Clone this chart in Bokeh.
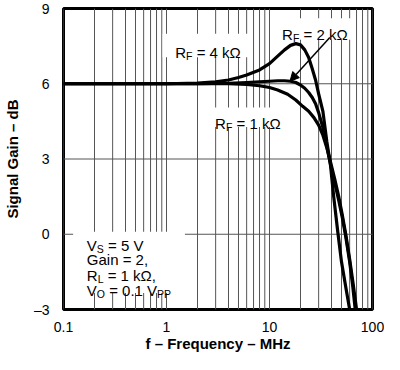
from bokeh.plotting import figure
from bokeh.models import (Range1d, FixedTicker, CustomJSTickFormatter, Label,
                          Arrow, NormalHead, ColumnDataSource)
from bokeh.embed import file_html
from bokeh.resources import INLINE

# ---------------- data ----------------
freq_4k = [0.1, 0.5, 1, 2, 3, 4, 5, 6, 8, 10, 12, 14, 16, 18, 20, 22, 24, 26,
           28, 30, 33, 36, 39, 42, 46, 50, 55, 60]
gain_4k = [6.0, 6.0, 6.0, 6.03, 6.08, 6.15, 6.25, 6.35, 6.55, 6.8, 7.1, 7.35,
           7.53, 7.6, 7.55, 7.35, 7.05, 6.6, 6.15, 5.6, 4.9, 3.7, 2.8, 1.5,
           0.1, -1.1, -2.1, -3.0]

freq_2k = [0.1, 1, 2, 4, 6, 8, 10, 12, 14, 16, 18, 20, 22, 24, 26, 28, 30, 33,
           36, 39, 43, 47, 51, 55, 60, 64, 68]
gain_2k = [6.0, 6.0, 6.0, 6.02, 6.05, 6.08, 6.1, 6.12, 6.12, 6.1, 6.05, 5.95,
           5.82, 5.65, 5.45, 5.2, 4.85, 4.25, 3.5, 2.8, 2.05, 1.35, 0.65, -0.1,
           -1.1, -2.0, -3.0]

freq_1k = [0.1, 1, 2, 4, 6, 8, 10, 12, 15, 18, 21, 24, 27, 30, 33, 36, 39, 43,
           47, 51, 55, 60, 65, 70]
gain_1k = [6.0, 6.0, 6.0, 6.0, 5.97, 5.92, 5.85, 5.75, 5.58, 5.35, 5.1, 4.9,
           4.65, 4.35, 3.95, 3.45, 2.9, 2.2, 1.5, 0.75, 0.0, -1.0, -2.0, -3.0]

x_tick_values = [0.1, 1, 10, 100]
x_tick_labels = ["0.1", "1", "10", "100"]
x_minor_values = [0.2, 0.3, 0.4, 0.5, 0.6, 0.7, 0.8, 0.9,
                  2, 3, 4, 5, 6, 7, 8, 9,
                  20, 30, 40, 50, 60, 70, 80, 90]
y_tick_values = [-3, 0, 3, 6, 9]
y_tick_labels = ["\u20133", "0", "3", "6", "9"]

x_title = "f \u2013 Frequency \u2013 MHz"
y_title = "Signal Gain \u2013 dB"

# ---------------- figure ----------------
FONT = "Liberation Sans"
GRID = "#555555"
X_MIN, X_MAX, Y_MIN, Y_MAX = 0.1, 100, -3, 9

p = figure(width=384, height=354, x_axis_type="log",
           x_range=Range1d(X_MIN, X_MAX), y_range=Range1d(Y_MIN, Y_MAX),
           output_backend="svg", toolbar_location=None,
           min_border_left=50, min_border_right=12,
           min_border_top=8, min_border_bottom=30)
p.background_fill_color = "white"
p.border_fill_color = "white"
p.outline_line_color = "black"
p.outline_line_width = 3
p.grid.visible = False

fmt_code = """
for (let i = 0; i < vals.length; i++) {
  if (Math.abs(tick - vals[i]) <= 1e-9 * Math.max(1, Math.abs(vals[i]))) return labs[i];
}
return "";
"""
p.xaxis.ticker = FixedTicker(ticks=x_tick_values, minor_ticks=x_minor_values)
p.xaxis.formatter = CustomJSTickFormatter(args=dict(vals=x_tick_values, labs=x_tick_labels), code=fmt_code)
p.yaxis.ticker = FixedTicker(ticks=y_tick_values)
p.yaxis.formatter = CustomJSTickFormatter(args=dict(vals=y_tick_values, labs=y_tick_labels), code=fmt_code)

for ax in (p.xaxis[0], p.yaxis[0]):
    ax.axis_line_color = None
    ax.major_tick_line_color = None
    ax.minor_tick_line_color = None
    ax.major_label_text_font = FONT
    ax.major_label_text_font_size = "14px"
    ax.major_label_text_color = "black"
    ax.axis_label_text_font = FONT
    ax.axis_label_text_font_size = "15px"
    ax.axis_label_text_font_style = "bold"
    ax.axis_label_text_color = "black"

p.xaxis.axis_label = x_title
p.yaxis.axis_label = y_title
p.xaxis.major_label_standoff = 6
p.xaxis.axis_label_standoff = 0
p.yaxis.major_label_standoff = 8
p.yaxis.axis_label_standoff = 10

# grid drawn as glyphs (so the white label boxes can cover it)
gx = sorted(x_tick_values + x_minor_values)
p.segment(x0=gx, y0=[Y_MIN] * len(gx), x1=gx, y1=[Y_MAX] * len(gx),
          line_color=GRID, line_width=1)
gy = [v for v in y_tick_values if Y_MIN < v < Y_MAX]
p.segment(x0=[X_MIN] * len(gy), y0=gy, x1=[X_MAX] * len(gy), y1=gy,
          line_color=GRID, line_width=1)

# white label backgrounds (interrupt the grid), drawn under the curves
boxes = ColumnDataSource(dict(left=[0.916, 11.9, 2.49, 0.124],
                              right=[6.47, 63.4, 15.1, 1.51],
                              bottom=[7.06, 7.75, 4.28, -2.34],
                              top=[7.99, 8.61, 5.05, 0.10]))
p.quad(left="left", right="right", bottom="bottom", top="top",
       source=boxes, fill_color="white", fill_alpha=1.0, line_color=None)

# curves
for fx, gyv in [(freq_4k, gain_4k), (freq_2k, gain_2k), (freq_1k, gain_1k)]:
    p.line(fx, gyv, line_color="black", line_width=3.2, line_join="round")

# ---------------- labels with subscripts ----------------
W = {"R": .722, "F": .611, "V": .667, "S": .667, "L": .556, "O": .778,
     "P": .667, "G": .778, "a": .556, "i": .222, "n": .556, " ": .278,
     "=": .584, ".": .278, ",": .278, "k": .5, "\u03a9": .768}


def tw(s, size):
    return sum(W.get(c, .556) for c in s) * size


def rich_label(x, y, parts, size=15.0):
    off = 0.0
    sub = size * 0.7
    for txt, is_sub in parts:
        fs = sub if is_sub else size
        lead = len(txt) - len(txt.lstrip(" "))
        shown = txt.strip(" ")
        p.add_layout(Label(x=x, y=y, x_offset=off + lead * W[" "] * fs,
                           y_offset=-3.5 if is_sub else 0,
                           text=shown, text_font=FONT,
                           text_font_size=f"{fs:.1f}px",
                           text_baseline="alphabetic", text_align="left",
                           text_color="black"))
        off += tw(txt, fs)


rich_label(1.216, 7.26, [("R", False), ("F", True), (" = 4 k\u03a9", False)])
rich_label(13.26, 7.97, [("R", False), ("F", True), (" = 2 k\u03a9", False)])
rich_label(2.963, 4.43, [("R", False), ("F", True), (" = 1 k\u03a9", False)])

rich_label(0.1684, -0.45, [("V", False), ("S", True), (" =  5 V", False)])
rich_label(0.1684, -1.00, [("Gain = 2,", False)])
rich_label(0.1684, -1.65, [("R", False), ("L", True), (" = 1 k\u03a9,", False)])
rich_label(0.1684, -2.23, [("V", False), ("O", True), (" = 0.1 V", False), ("PP", True)])

# arrow pointing at the 2 kOhm curve
p.add_layout(Arrow(end=NormalHead(size=9, fill_color="black", line_color="black"),
                   x_start=38.5, y_start=7.84, x_end=15.8, y_end=6.10,
                   line_color="black", line_width=1.5))

open("out.html", "w").write(file_html(p, INLINE))
